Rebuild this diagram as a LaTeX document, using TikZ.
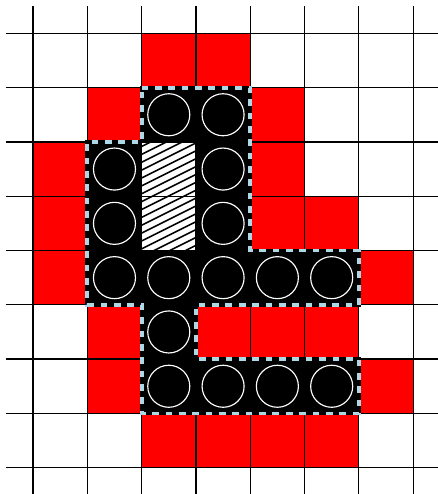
\documentclass[tikz,border=0pt]{standalone}
\definecolor{lightblue}{HTML}{ADD8E6}
\begin{document}
\begin{tikzpicture}[
  hole/.style={circle, draw=white, line width=0.6pt, minimum size=0.774cm, inner sep=0pt},
  gridline/.style={black, line width=0.65pt},
  hatchline/.style={black, line width=0.8pt},
  blockfill/.style={fill=black, draw=black, line width=2pt},
  outline/.style={draw=lightblue, line width=2pt, dash pattern=on 3.5pt off 3.5pt}
]
\useasboundingbox (-0.608,-8.484) rectangle (7.44,0.613);
% red cells
\foreach \c/\r in {2/0,3/0, 1/1,4/1, 0/2,4/2, 0/3,4/3,5/3, 0/4,6/4, 1/5,3/5,4/5,5/5, 1/6,6/6, 2/7,3/7,4/7,5/7}
  \fill[red] (\c,-\r) rectangle ++(1,-1);
% black block
\path[blockfill] (2,-1) -- (4,-1) -- (4,-4) -- (6,-4) -- (6,-5) -- (3,-5) -- (3,-6) -- (6,-6) -- (6,-7) -- (2,-7) -- (2,-5) -- (1,-5) -- (1,-2) -- (2,-2) -- cycle;
% hatched cells
\begin{scope}
  \clip (2,-2) rectangle (3,-4);
  \fill[white] (2,-2) rectangle (3,-4);
  \foreach \k in {0,...,20}
    \draw[hatchline] (1.9,-4.6+\k*0.145) -- ++(1.2,0.6);
\end{scope}
% grid
\foreach \i in {0,...,7}
  \draw[gridline] (\i,0.5) -- (\i,-8.7);
\foreach \j in {0,...,8}
  \draw[gridline] (-0.5,-\j) -- (7.7,-\j);
% holes
\foreach \c/\r in {2/1,3/1, 1/2,3/2, 1/3,3/3, 1/4,2/4,3/4,4/4,5/4, 2/5, 2/6,3/6,4/6,5/6}
  \node[hole] (h\c\r) at (\c+0.5,-\r-0.5) {};
% dashed outline
\path[outline] (2,-1) -- (4,-1) -- (4,-4) -- (6,-4) -- (6,-5) -- (3,-5) -- (3,-6) -- (6,-6) -- (6,-7) -- (2,-7) -- (2,-5) -- (1,-5) -- (1,-2) -- (2,-2) -- cycle;
\end{tikzpicture}
\end{document}
